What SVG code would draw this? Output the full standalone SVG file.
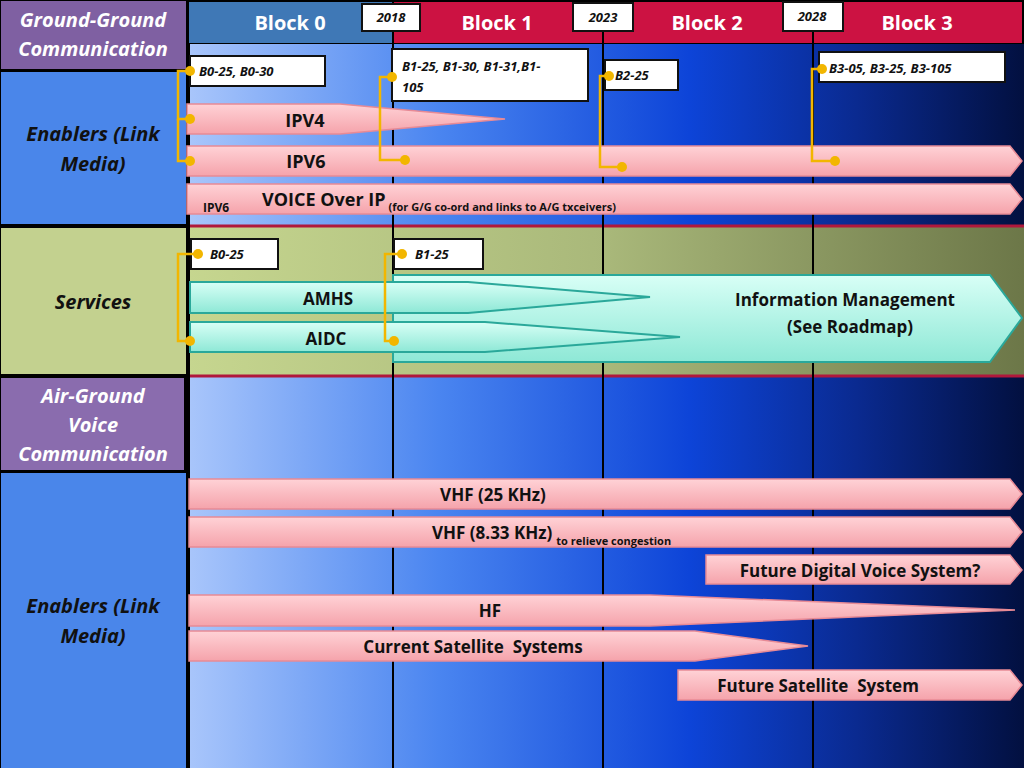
<svg xmlns="http://www.w3.org/2000/svg" width="1024" height="768" viewBox="0 0 1024 768">
<defs>
<linearGradient id="bg" x1="0" x2="1" y1="0" y2="0"><stop offset="0" stop-color="#a9c6fb"/><stop offset="0.3" stop-color="#4a85f0"/><stop offset="0.6" stop-color="#0d44d8"/><stop offset="0.8" stop-color="#0a2a90"/><stop offset="1" stop-color="#021040"/></linearGradient>
<linearGradient id="sv" x1="0" x2="1"><stop offset="0" stop-color="#c6d68f"/><stop offset="0.5" stop-color="#a9b87a"/><stop offset="1" stop-color="#6c7748"/></linearGradient>
<linearGradient id="pk" x1="0" x2="0" y1="0" y2="1"><stop offset="0" stop-color="#ffd2d6"/><stop offset="1" stop-color="#f5a3ab"/></linearGradient>
<linearGradient id="cy" x1="0" x2="0" y1="0" y2="1"><stop offset="0" stop-color="#d8fff6"/><stop offset="1" stop-color="#8ee8d6"/></linearGradient>
<marker id="dot" viewBox="0 0 10 10" refX="5" refY="5" markerWidth="4" markerHeight="4"><circle cx="5" cy="5" r="5" fill="#f2b600"/></marker>
</defs>
<style>
.pk{fill:url(#pk);stroke:#e88a95;stroke-width:1.5}
.cy{fill:url(#cy);stroke:#2aa89a;stroke-width:2}
.lbl{font-family:"Open Sans","Liberation Sans",sans-serif;font-weight:bold;fill:#111}
.hd{font-family:"Open Sans","Liberation Sans",sans-serif;font-weight:bold;fill:#fff;font-size:20px}
.cat{font-family:"Open Sans","Liberation Sans",sans-serif;font-weight:bold;font-style:italic;font-size:20px}
.tag{fill:#fff;stroke:#111;stroke-width:2}
.tt{font-family:"Open Sans","Liberation Sans",sans-serif;font-weight:bold;font-style:italic;font-size:13px;fill:#111}
.br{fill:none;stroke:#f2b600;stroke-width:2.5;marker-start:url(#dot);marker-end:url(#dot)}
.br2{fill:none;stroke:#f2b600;stroke-width:2.5;marker-end:url(#dot)}
.vl{stroke:#000;stroke-width:2}
</style>
<rect width="1024" height="768" fill="#000"/>
<rect x="188" y="44" width="836" height="724" fill="url(#bg)"/>
<rect x="188" y="227" width="836" height="148" fill="url(#sv)"/>
<line x1="188" y1="226" x2="1024" y2="226" stroke="#b0183c" stroke-width="3"/>
<line x1="188" y1="376" x2="1024" y2="376" stroke="#b0183c" stroke-width="3"/>
<g id="headers">
<rect x="189" y="2" width="203" height="41" fill="#3f78b6"/>
<rect x="394" y="2" width="628" height="41" fill="#cc1242"/>
<text class="hd" x="290" y="30" text-anchor="middle">Block 0</text>
<text class="hd" x="497" y="30" text-anchor="middle">Block 1</text>
<text class="hd" x="707" y="30" text-anchor="middle">Block 2</text>
<text class="hd" x="917" y="30" text-anchor="middle">Block 3</text>
</g>
<g id="gridlines">
<line class="vl" x1="393" y1="30" x2="393" y2="768"/>
<line class="vl" x1="603" y1="30" x2="603" y2="768"/>
<line class="vl" x1="813" y1="30" x2="813" y2="768"/>
<line class="vl" x1="189" y1="44" x2="189" y2="768"/>
</g>
<g id="years">
<rect class="tag" x="362" y="4" width="58" height="27" fill="#fffde8"/><text class="tt" x="391" y="22" text-anchor="middle">2018</text>
<rect class="tag" x="573" y="3" width="60" height="28" fill="#fffde8"/><text class="tt" x="603" y="22" text-anchor="middle">2023</text>
<rect class="tag" x="783" y="2" width="60" height="29" fill="#fffde8"/><text class="tt" x="812" y="21" text-anchor="middle">2028</text>
</g>
<g id="cats">
<rect x="1" y="1" width="185" height="68" fill="#7f60a2"/>
<text class="cat" x="93" y="27" text-anchor="middle" fill="#fff">Ground-Ground</text>
<text class="cat" x="93" y="56" text-anchor="middle" fill="#fff">Communication</text>
<rect x="1" y="72" width="185" height="152" fill="#4a86ea"/>
<text class="cat" x="93" y="141" text-anchor="middle" fill="#111">Enablers (Link</text>
<text class="cat" x="93" y="171" text-anchor="middle" fill="#111">Media)</text>
<rect x="1" y="228" width="185" height="146" fill="#c3d18f"/>
<text class="cat" x="93" y="309" text-anchor="middle" fill="#111">Services</text>
<rect x="1" y="378" width="183" height="92" fill="#8a6cae"/>
<text class="cat" x="93" y="403" text-anchor="middle" fill="#fff">Air-Ground</text>
<text class="cat" x="93" y="432" text-anchor="middle" fill="#fff">Voice</text>
<text class="cat" x="93" y="461" text-anchor="middle" fill="#fff">Communication</text>
<rect x="1" y="473" width="185" height="295" fill="#4a86ea"/>
<text class="cat" x="93" y="613" text-anchor="middle" fill="#111">Enablers (Link</text>
<text class="cat" x="93" y="643" text-anchor="middle" fill="#111">Media)</text>
</g>
<g id="gg-bars">
<polygon class="pk" points="187,104 340,104 505,119 340,134 187,134"/>
<text class="lbl" x="305" y="127" font-size="18" text-anchor="middle">IPV4</text>
<polygon class="pk" points="187,146 1010,146 1022,161 1010,176 187,176"/>
<text class="lbl" x="306" y="168" font-size="18" text-anchor="middle">IPV6</text>
<polygon class="pk" points="187,184 1010,184 1022,199 1010,214 187,214"/>
<text class="lbl" x="203" y="212" font-size="12">IPV6</text>
<text class="lbl" x="262" y="206" font-size="18">VOICE Over IP<tspan font-size="11" dx="3" dy="5">(for G/G co-ord and links to A/G txceivers)</tspan></text>
</g>
<g id="gg-tags">
<rect class="tag" x="190" y="56" width="135" height="30"/><text class="tt" x="199" y="76">B0-25, B0-30</text>
<rect class="tag" x="392" y="49" width="196" height="52"/><text class="tt" x="402" y="71">B1-25, B1-30, B1-31,B1-</text><text class="tt" x="402" y="92">105</text>
<rect class="tag" x="605" y="60" width="73" height="30"/><text class="tt" x="615" y="80">B2-25</text>
<rect class="tag" x="819" y="52" width="186" height="30"/><text class="tt" x="829" y="73">B3-05, B3-25, B3-105</text>
</g>
<g id="services">
<polygon class="cy" points="393,275 990,275 1022,318 990,362 393,362"/>
<polygon class="cy" points="190,282 468,282 650,297 468,313 190,313"/>
<polygon class="cy" points="190,322 485,322 680,337 485,352 190,352"/>
<text class="lbl" x="328" y="305" font-size="17" text-anchor="middle">AMHS</text>
<text class="lbl" x="326" y="345" font-size="17" text-anchor="middle">AIDC</text>
<text class="lbl" x="845" y="306" font-size="17" text-anchor="middle">Information Management</text>
<text class="lbl" x="850" y="333" font-size="17" text-anchor="middle">(See Roadmap)</text>
<rect class="tag" x="191" y="239" width="87" height="30"/><text class="tt" x="210" y="259">B0-25</text>
<rect class="tag" x="394" y="239" width="89" height="30"/><text class="tt" x="415" y="259">B1-25</text>
</g>
<g id="ag-bars">
<polygon class="pk" points="189,479 1010,479 1022,494 1010,509 189,509"/>
<text class="lbl" x="493" y="501" font-size="17" text-anchor="middle">VHF (25 KHz)</text>
<polygon class="pk" points="189,517 1010,517 1022,532 1010,547 189,547"/>
<text class="lbl" x="432" y="539" font-size="17">VHF (8.33 KHz)<tspan font-size="11" dx="4" dy="6">to relieve congestion</tspan></text>
<polygon class="pk" points="706,555 1010,555 1022,570 1010,584 706,584"/>
<text class="lbl" x="860" y="577" font-size="17" text-anchor="middle">Future Digital Voice System?</text>
<polygon class="pk" points="189,595 650,595 1015,610 650,626 189,626"/>
<text class="lbl" x="490" y="617" font-size="17" text-anchor="middle">HF</text>
<polygon class="pk" points="189,631 695,631 808,646 695,661 189,661"/>
<text class="lbl" x="473" y="653" font-size="17" text-anchor="middle" xml:space="preserve">Current Satellite  Systems</text>
<polygon class="pk" points="678,670 1010,670 1022,685 1010,700 678,700"/>
<text class="lbl" x="818" y="692" font-size="17" text-anchor="middle" xml:space="preserve">Future Satellite  System</text>
</g>
<g id="connectors">
<polyline class="br" points="190,71 178,71 178,119 190,119"/>
<polyline class="br2" points="178,119 178,161 190,161"/>
<polyline class="br" points="392,77 380,77 380,160 405,160"/>
<polyline class="br" points="609,76 600,76 600,167 622,167"/>
<polyline class="br" points="822,69 812,69 812,161 835,161"/>
<polyline class="br" points="198,254 178,254 178,341 190,341"/>
<polyline class="br" points="402,254 385,254 385,341 394,341"/>
</g>
</svg>
